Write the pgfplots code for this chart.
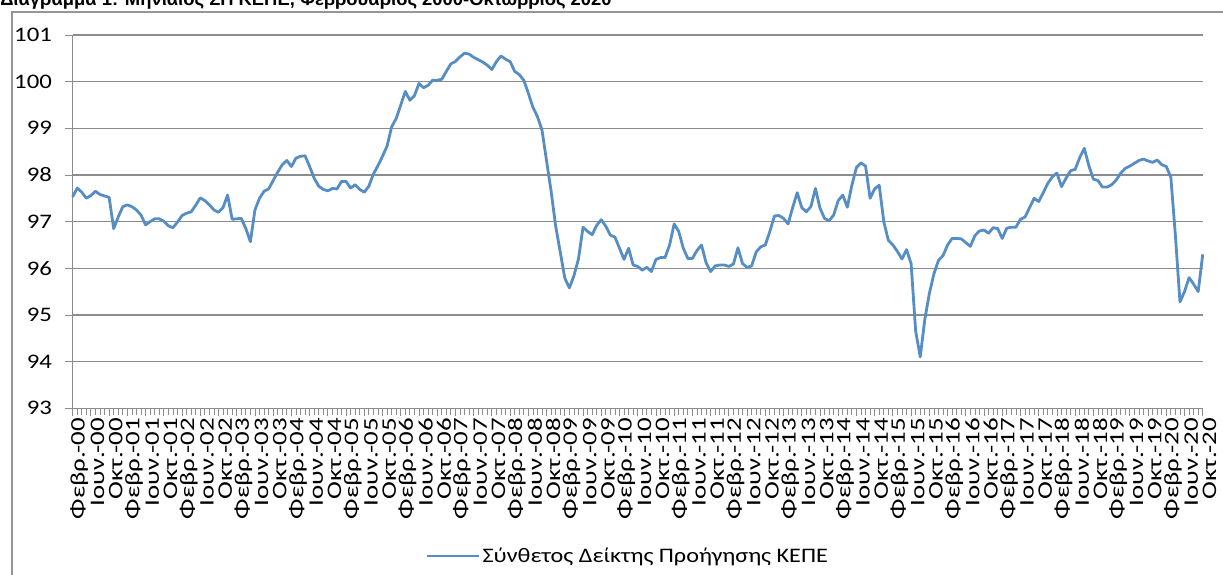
\documentclass[border=0pt]{standalone}
\usepackage{fontspec}
\setmainfont{Carlito}
\newfontfamily\titlefont{Liberation Sans}
\newfontfamily\yfont[FakeStretch=1.2]{Carlito}
\newfontfamily\xfont[FakeStretch=1.3]{Carlito}
\newfontfamily\legfont[FakeStretch=1.17]{Carlito}
\usepackage{pgfplots}
\usepackage{pgfplotstable}
\pgfplotsset{compat=1.18}
\definecolor{linecol}{RGB}{86,141,196}
\definecolor{gridcol}{RGB}{140,140,140}
\definecolor{framecol}{RGB}{150,150,150}
\pgfplotstableread{
i v
0 97.53
1 97.72
2 97.63
3 97.50
4 97.56
5 97.65
6 97.58
7 97.55
8 97.52
9 96.85
10 97.10
11 97.32
12 97.36
13 97.32
14 97.25
15 97.14
16 96.93
17 97.00
18 97.06
19 97.06
20 97.01
21 96.91
22 96.87
23 96.99
24 97.13
25 97.18
26 97.21
27 97.35
28 97.51
29 97.45
30 97.36
31 97.25
32 97.20
33 97.30
34 97.57
35 97.05
36 97.06
37 97.07
38 96.85
39 96.57
40 97.25
41 97.50
42 97.65
43 97.70
44 97.88
45 98.06
46 98.22
47 98.31
48 98.18
49 98.36
50 98.40
51 98.41
52 98.18
53 97.93
54 97.76
55 97.69
56 97.66
57 97.71
58 97.70
59 97.86
60 97.86
61 97.72
62 97.79
63 97.69
64 97.63
65 97.76
66 98.02
67 98.20
68 98.40
69 98.62
70 99.03
71 99.21
72 99.50
73 99.79
74 99.60
75 99.70
76 99.96
77 99.87
78 99.92
79 100.03
80 100.03
81 100.05
82 100.22
83 100.38
84 100.43
85 100.53
86 100.61
87 100.59
88 100.52
89 100.47
90 100.42
91 100.35
92 100.26
93 100.43
94 100.55
95 100.48
96 100.43
97 100.22
98 100.15
99 100.03
100 99.75
101 99.45
102 99.25
103 98.96
104 98.30
105 97.65
106 96.90
107 96.35
108 95.79
109 95.58
110 95.84
111 96.20
112 96.88
113 96.79
114 96.72
115 96.92
116 97.04
117 96.90
118 96.71
119 96.67
120 96.43
121 96.19
122 96.43
123 96.07
124 96.04
125 95.96
126 96.02
127 95.93
128 96.19
129 96.23
130 96.23
131 96.50
132 96.95
133 96.79
134 96.43
135 96.21
136 96.21
137 96.38
138 96.50
139 96.12
140 95.93
141 96.05
142 96.07
143 96.07
144 96.04
145 96.09
146 96.44
147 96.10
148 96.02
149 96.05
150 96.35
151 96.46
152 96.50
153 96.79
154 97.12
155 97.13
156 97.07
157 96.95
158 97.30
159 97.62
160 97.30
161 97.21
162 97.32
163 97.71
164 97.29
165 97.07
166 97.02
167 97.14
168 97.45
169 97.57
170 97.31
171 97.78
172 98.16
173 98.26
174 98.19
175 97.50
176 97.70
177 97.78
178 97.00
179 96.60
180 96.50
181 96.36
182 96.20
183 96.40
184 96.10
185 94.65
186 94.10
187 94.90
188 95.46
189 95.88
190 96.17
191 96.27
192 96.50
193 96.64
194 96.64
195 96.63
196 96.55
197 96.47
198 96.70
199 96.80
200 96.82
201 96.75
202 96.87
203 96.85
204 96.64
205 96.86
206 96.88
207 96.88
208 97.05
209 97.10
210 97.30
211 97.50
212 97.43
213 97.62
214 97.82
215 97.96
216 98.04
217 97.75
218 97.93
219 98.09
220 98.12
221 98.37
222 98.57
223 98.20
224 97.91
225 97.88
226 97.74
227 97.74
228 97.79
229 97.89
230 98.04
231 98.14
232 98.19
233 98.25
234 98.31
235 98.34
236 98.30
237 98.27
238 98.32
239 98.22
240 98.18
241 97.95
242 96.70
243 95.28
244 95.50
245 95.80
246 95.66
247 95.50
248 96.30
}\datatable
\begin{document}
\begin{tikzpicture}
\path[use as bounding box, clip] (-54.5pt,-125pt) rectangle (862.7pt,306.2pt);
\draw[framecol, line width=0.9pt] (-45.5pt,-140pt) -- (-45.5pt,297.2pt) -- (880pt,297.2pt);
\node[anchor=base west, inner sep=0pt, font=\titlefont\bfseries\fontsize{13.8}{15}\selectfont] at (-54.5pt,301.7pt) {Διάγραμμα 1: Μηνιαίος ΣΠ ΚΕΠΕ, Φεβρουάριος 2000-Οκτώβριος 2020};
\begin{axis}[
  at={(0,0)}, anchor=south west,
  scale only axis, width=847.5pt, height=280pt,
  xmin=0, xmax=248, ymin=93, ymax=101,
  ytick={93,94,...,101},
  xtick={0,4,...,248},
  minor xtick={0,1,...,248},
  xticklabels={Φεβρ.-00,Ιουν.-00,Οκτ.-00,Φεβρ.-01,Ιουν.-01,Οκτ.-01,Φεβρ.-02,Ιουν.-02,Οκτ.-02,Φεβρ.-03,Ιουν.-03,Οκτ.-03,Φεβρ.-04,Ιουν.-04,Οκτ.-04,Φεβρ.-05,Ιουν.-05,Οκτ.-05,Φεβρ.-06,Ιουν.-06,Οκτ.-06,Φεβρ.-07,Ιουν.-07,Οκτ.-07,Φεβρ.-08,Ιουν.-08,Οκτ.-08,Φεβρ.-09,Ιουν.-09,Οκτ.-09,Φεβρ.-10,Ιουν.-10,Οκτ.-10,Φεβρ.-11,Ιουν.-11,Οκτ.-11,Φεβρ.-12,Ιουν.-12,Οκτ.-12,Φεβρ.-13,Ιουν.-13,Οκτ.-13,Φεβρ.-14,Ιουν.-14,Οκτ.-14,Φεβρ.-15,Ιουν.-15,Οκτ.-15,Φεβρ.-16,Ιουν.-16,Οκτ.-16,Φεβρ.-17,Ιουν.-17,Οκτ.-17,Φεβρ.-18,Ιουν.-18,Οκτ.-18,Φεβρ.-19,Ιουν.-19,Οκτ.-19,Φεβρ.-20,Ιουν.-20,Οκτ.-20},
  xticklabel style={rotate=90, anchor=east, font=\xfont\fontsize{15.5}{15.5}\selectfont, inner sep=1pt, yshift=-5pt},
  yticklabel style={font=\yfont\fontsize{15.5}{15.5}\selectfont, anchor=east, xshift=-6pt},
  /pgf/number format/assume math mode=true,
  axis lines*=left,
  axis line style={gridcol, line width=0.9pt, -},
  ymajorgrids,
  grid style={gridcol, line width=0.9pt},
  tick align=outside,
  major tick length=6pt, minor tick length=5pt,
  tick style={gridcol, line width=0.6pt},
  clip=false,
  legend style={at={(0.3118,-0.396)}, anchor=west, draw=none, fill=none, inner sep=0pt, font=\legfont\fontsize{15.5}{16}\selectfont},
  legend image code/.code={\draw[#1, line width=2pt] (0pt,0pt) -- (39pt,0pt);},
]
\addplot[linecol, line width=2.1pt, line join=round] table[x=i, y=v] {\datatable};
\addlegendentry{Σύνθετος Δείκτης Προήγησης ΚΕΠΕ}
\end{axis}
\end{tikzpicture}
\end{document}
